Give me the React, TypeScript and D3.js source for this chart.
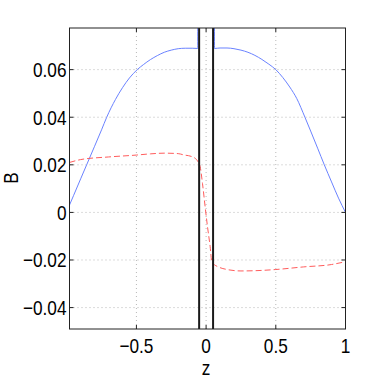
import React from 'react';
import * as d3 from 'd3';

// blue: B along z (solid)
const blueZ = [-0.98, -0.95, -0.9, -0.857, -0.8, -0.75, -0.713, -0.65, -0.6, -0.55, -0.494, -0.45, -0.4, -0.35, -0.3, -0.25, -0.2, -0.15, -0.1, -0.06, -0.0599,
  0.0599, 0.06, 0.1, 0.15, 0.2, 0.25, 0.3, 0.35, 0.4, 0.45, 0.5, 0.55, 0.6, 0.65, 0.709, 0.75, 0.8, 0.848, 0.9, 0.95, 1.0];
const blueB = [0.0031, 0.0072, 0.0141, 0.02, 0.0278, 0.0347, 0.04, 0.0475, 0.0524, 0.0565, 0.06, 0.0621, 0.0642, 0.0659, 0.0673, 0.0682, 0.0688, 0.069, 0.069, 0.0689, 0.1,
  0.1, 0.0689, 0.0691, 0.0691, 0.0688, 0.0682, 0.0673, 0.066, 0.0643, 0.0623, 0.06, 0.0567, 0.0527, 0.0479, 0.04, 0.0342, 0.027, 0.02, 0.0128, 0.006, 0.0];

// red: dashed
const redZ = [-0.98, -0.9, -0.7, -0.5, -0.4, -0.3, -0.2, -0.163, -0.1, -0.08, -0.06, -0.043, -0.026, -0.007, 0.01, 0.029, 0.041,
  0.06, 0.08, 0.15, 0.25, 0.35, 0.5, 0.7, 0.9, 1.0];
const redB = [0.021, 0.0222, 0.0233, 0.0241, 0.0246, 0.0249, 0.0247, 0.0242, 0.0234, 0.0228, 0.0215, 0.0193, 0.0122, 0.0024, -0.006, -0.0144, -0.0207,
  -0.022, -0.0227, -0.024, -0.0246, -0.0245, -0.024, -0.0229, -0.0219, -0.0207];

const walls = [-0.05, 0.05];
const xTicks = [-0.5, 0, 0.5, 1];
const xTickLabels = ['\u22120.5', '0', '0.5', '1'];
const yTicks = [-0.04, -0.02, 0, 0.02, 0.04, 0.06];
const yTickLabels = ['\u22120.04', '\u22120.02', '0', '0.02', '0.04', '0.06'];

const W = 382, H = 382;
const L = 69.5, R = 345.5, T = 28, B = 329;

// narrow-ish label like the original renderer
function Label(props: { x: number, y: number, anchor: string, text: string, rotate?: number }) {
  return (
    <g transform={`translate(${props.x},${props.y}) rotate(${props.rotate || 0}) scale(0.82,1)`}>
      <text textAnchor={props.anchor}>{props.text}</text>
    </g>
  );
}

export default function App() {
  const x = d3.scaleLinear().domain([-0.98, 1]).range([L, R]);
  const y = d3.scaleLinear().domain([-0.049, 0.0775]).range([B, T]);

  const line = d3.line<[number, number]>().x(d => x(d[0])).y(d => y(d[1])).curve(d3.curveMonotoneX);
  const blue = line(blueZ.map((z, i) => [z, blueB[i]] as [number, number])) || '';
  const red = line(redZ.map((z, i) => [z, redB[i]] as [number, number])) || '';

  const font = 'Liberation Sans, Arial, Helvetica, sans-serif';

  return (
    <div style={{ position: 'absolute', left: 0, top: 0 }}>
      <svg width={W} height={H} style={{ display: 'block', background: '#fff' }}>
        <defs>
          <clipPath id="plot">
            <rect x={L} y={T} width={R - L} height={B - T} />
          </clipPath>
        </defs>

        {/* grid */}
        <g stroke="#b8b8b8" strokeWidth={1} strokeDasharray="1,3">
          {xTicks.map(t => <line key={'gx' + t} x1={x(t)} x2={x(t)} y1={T} y2={B} />)}
          {yTicks.map(t => <line key={'gy' + t} x1={L} x2={R} y1={y(t)} y2={y(t)} />)}
        </g>

        <g clipPath="url(#plot)" fill="none">
          <path d={blue} stroke="#6a82ff" strokeWidth={1} />
          <path d={red} stroke="#ff5c5c" strokeWidth={1} strokeDasharray="6,3" />
          {walls.map(w => <line key={w} x1={x(w)} x2={x(w)} y1={T} y2={B} stroke="#1a1a1a" strokeWidth={2} />)}
        </g>

        {/* box + ticks */}
        <rect x={L} y={T} width={R - L} height={B - T} fill="none" stroke="#222" strokeWidth={1} />
        <g stroke="#222" strokeWidth={1}>
          {yTicks.map(t => (
            <g key={'ty' + t}>
              <line x1={L} x2={L + 4} y1={y(t)} y2={y(t)} />
              <line x1={R} x2={R - 4} y1={y(t)} y2={y(t)} />
            </g>
          ))}
          {xTicks.map(t => (
            <g key={'tx' + t}>
              <line x1={x(t)} x2={x(t)} y1={B} y2={B - 4} />
              <line x1={x(t)} x2={x(t)} y1={T} y2={T + 4} />
            </g>
          ))}
        </g>

        <g fontFamily={font} fontSize={21} fill="#000">
          {yTicks.map((t, i) => (
            <Label key={'ly' + t} x={L - 3} y={y(t) + 7.5} anchor="end" text={yTickLabels[i]} />
          ))}
          {xTicks.map((t, i) => (
            <Label key={'lx' + t} x={x(t)} y={B + 24} anchor="middle" text={xTickLabels[i]} />
          ))}
          <Label x={x(0)} y={375} anchor="middle" text="z" />
          <Label x={18} y={178} anchor="middle" text="B" rotate={-90} />
        </g>
      </svg>
    </div>
  );
}
